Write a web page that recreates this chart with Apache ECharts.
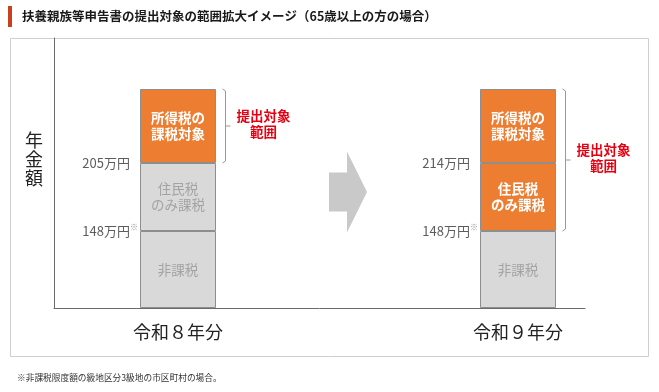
<!DOCTYPE html>
<html>
<head>
<meta charset="utf-8">
<script src="https://cdn.jsdelivr.net/npm/echarts@6/dist/echarts.min.js"></script>
<style>
html, body { margin: 0; padding: 0; background: #fff; }
#chart { width: 659px; height: 392px; }
</style>
</head>
<body>
<div id="chart"></div>
<script>
// 概念図なので縦の長さは金額に比例していない（図上の高さをそのまま使う）
const years = ['令和８年分', '令和９年分'];
const segLabels = ['非課税', '住民税\nのみ課税', '所得税の\n課税対象'];
const hikazei = [77, 77];
const juminOnly = [68, 68];
const shotoku = [74, 74];
const lowerLine = ['148万円', '148万円'];
const upperLine = ['205万円', '214万円'];
const scopeFrom = [2, 1]; // 提出対象になる最初の区分
const yMax = 270;

const font = '"Noto Sans CJK JP", "Noto Sans", sans-serif';
const ORANGE = '#ed7d31';
const GREY = '#d9d9d9';
const segValues = [hikazei, juminOnly, shotoku];

// 3つのカテゴリの真ん中は矢印用の空き
const cats = [years[0], '', years[1]];
const slot = i => (i === 0 ? 0 : 2);

const barSeries = segValues.map((vals, s) => ({
    name: segLabels[s],
    type: 'bar',
    stack: 'total',
    xAxisIndex: 1,
    yAxisIndex: 1,
    barWidth: 76,
    data: cats.map((c, k) => {
        if (k === 1) return '-';
        const i = k === 0 ? 0 : 1;
        const inScope = s >= scopeFrom[i];
        return {
            value: vals[i],
            itemStyle: { color: inScope ? ORANGE : GREY },
            label: {
                color: inScope ? '#fff' : '#a3a3a3',
                fontWeight: inScope ? 'bold' : 'normal'
            }
        };
    }),
    itemStyle: { borderColor: '#8e8e8e', borderWidth: 1 },
    label: {
        show: true,
        position: 'inside',
        formatter: segLabels[s],
        fontFamily: font,
        fontSize: 13.5,
        lineHeight: 16
    },
    silent: true
}));

// 境界の金額ラベル
const tickData = [];
years.forEach((y, i) => {
    tickData.push({
        value: [slot(i), hikazei[i]],
        label: { formatter: '{a|' + lowerLine[i] + '}{s|※}', distance: 40 }
    });
    tickData.push({
        value: [slot(i), hikazei[i] + juminOnly[i]],
        label: { formatter: '{a|' + upperLine[i] + '}', distance: 48 }
    });
});

const chart = echarts.init(document.getElementById('chart'));
chart.setOption({
    animation: false,
    grid: [
        { left: 54, top: 38, width: 531, height: 270 },
        { left: 93, top: 38, width: 510, height: 270 }
    ],
    xAxis: [
        {
            gridIndex: 0, type: 'category', data: [''],
            axisLine: { show: true, lineStyle: { color: '#6b6b6b', width: 1 } },
            axisTick: { show: false }, axisLabel: { show: false }
        },
        {
            gridIndex: 1, type: 'category', data: cats,
            axisLine: { show: false }, axisTick: { show: false },
            axisLabel: { fontFamily: font, fontSize: 18, color: '#222', margin: 15 }
        }
    ],
    yAxis: [
        {
            gridIndex: 0, type: 'value', min: 0, max: yMax,
            axisLine: { show: true, lineStyle: { color: '#6b6b6b', width: 1 } },
            axisTick: { show: false }, axisLabel: { show: false }, splitLine: { show: false }
        },
        {
            gridIndex: 1, type: 'value', min: 0, max: yMax, show: false
        }
    ],
    series: barSeries.concat([{
        type: 'scatter',
        xAxisIndex: 1,
        yAxisIndex: 1,
        symbolSize: 0,
        silent: true,
        data: tickData,
        label: {
            show: true,
            position: 'left',
            rich: {
                a: { fontFamily: font, fontSize: 13, color: '#333' },
                s: { fontFamily: font, fontSize: 8, color: '#777', padding: [0, 0, 9, 0] }
            }
        }
    }])
});

// 注記・枠・矢印・括弧（棒の位置から計算）
const px = (c, v) => chart.convertToPixel({ gridIndex: 1 }, [c, v]);
const graphics = [
    { type: 'rect', shape: { x: 10.5, y: 38.5, width: 638, height: 318 }, style: { fill: 'none', stroke: '#cfcfcf', lineWidth: 1 }, z: -1 },
    { type: 'rect', shape: { x: 8, y: 6, width: 4, height: 21 }, style: { fill: '#c8401c' } },
    { type: 'text', x: 22, y: 16, style: { text: '扶養親族等申告書の提出対象の範囲拡大イメージ（65歳以上の方の場合）', fontFamily: font, fontSize: 12.5, fontWeight: 'bold', fill: '#1a1a1a', verticalAlign: 'middle' } },
    { type: 'text', x: 17, y: 378, style: { text: '※非課税限度額の級地区分3級地の市区町村の場合。', fontFamily: font, fontSize: 8.7, fill: '#333', verticalAlign: 'middle' } },
    { type: 'text', x: 34, y: 159, style: { text: '年\n金\n額', fontFamily: font, fontSize: 18, lineHeight: 19, fill: '#222', align: 'center', verticalAlign: 'middle' } }
];

const ac = px(1, 116);
graphics.push({
    type: 'polygon',
    shape: { points: [
        [ac[0] - 19, ac[1] - 19.5], [ac[0] - 1, ac[1] - 19.5], [ac[0] - 1, ac[1] - 40.5],
        [ac[0] + 19, ac[1]],
        [ac[0] - 1, ac[1] + 40.5], [ac[0] - 1, ac[1] + 19.5], [ac[0] - 19, ac[1] + 19.5]
    ] },
    style: { fill: '#c9c9c9' }
});

years.forEach((y, i) => {
    let bottom = 0;
    for (let s = 0; s < scopeFrom[i]; s++) bottom += segValues[s][i];
    let top = 0;
    segValues.forEach(v => { top += v[i]; });
    const pTop = px(slot(i), top);
    const pBot = px(slot(i), bottom);
    const bx = Math.round(pTop[0] + 38 + 6) + 0.5;
    const mid = (pTop[1] + pBot[1]) / 2;
    graphics.push({
        type: 'polyline',
        shape: { points: [[bx, pTop[1]], [bx + 3, pTop[1] + 2], [bx + 3, pBot[1] - 2], [bx, pBot[1]]] },
        style: { stroke: '#9a9a9a', lineWidth: 1, fill: 'none' }
    });
    graphics.push({
        type: 'polyline',
        shape: { points: [[bx + 3, mid], [bx + 8, mid]] },
        style: { stroke: '#9a9a9a', lineWidth: 1 }
    });
    graphics.push({
        type: 'text', x: bx + 41, y: mid - 2,
        style: { text: '提出対象\n範囲', fontFamily: font, fontSize: 13.5, fontWeight: 'bold', lineHeight: 16, fill: '#e60012', align: 'center', verticalAlign: 'middle' }
    });
});

chart.setOption({ graphic: graphics });
</script>
</body>
</html>
